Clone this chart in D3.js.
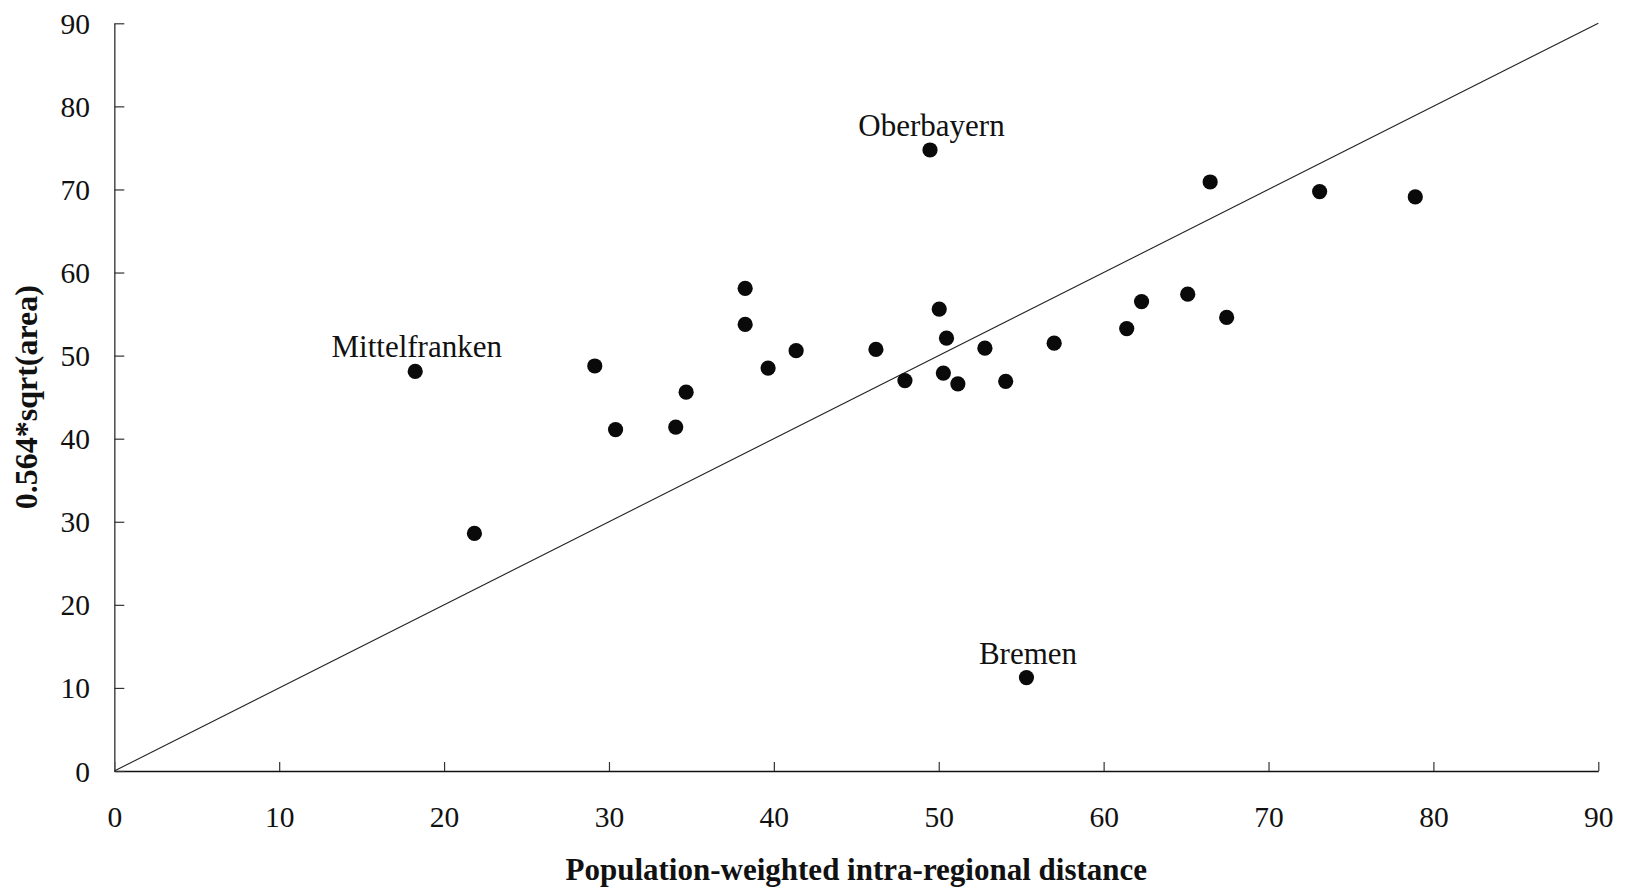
<!DOCTYPE html>
<html>
<head>
<meta charset="utf-8">
<script src="https://cdn.jsdelivr.net/npm/d3@7"></script>
<style>
  html, body { margin: 0; padding: 0; background: #fff; }
  svg { display: block; }
  text { font-family: "Liberation Serif", "Times New Roman", serif; fill: #111; }
</style>
</head>
<body>
<svg id="chart" width="1625" height="890"></svg>
<script>
// distance (x) vs 0.564*sqrt(area) (y), one point per region
var distance = [18.25, 21.84, 29.14, 30.4, 34.05, 34.68, 38.26, 38.26, 39.65, 41.35,
                46.19, 47.95, 49.47, 50.03, 50.28, 50.47, 51.16, 52.8, 54.06, 55.32,
                57.0, 61.4, 62.3, 65.1, 66.46, 67.46, 73.1, 78.9];
var areaRadius = [48.1, 28.6, 48.75, 41.1, 41.4, 45.6, 58.1, 53.75, 48.5, 50.6,
                  50.75, 47.0, 74.75, 55.6, 47.9, 52.1, 46.6, 50.9, 46.9, 11.25,
                  51.5, 53.25, 56.5, 57.4, 70.9, 54.6, 69.75, 69.1];
var names = ["Mittelfranken", "", "", "", "", "", "", "", "", "",
             "", "", "Oberbayern", "", "", "", "", "", "", "Bremen",
             "", "", "", "", "", "", "", ""];
var ticks = [0, 10, 20, 30, 40, 50, 60, 70, 80, 90];

var svg = d3.select("#chart");

var x = d3.scaleLinear().domain([0, 90]).range([114.3, 1598.3]);
var y = d3.scaleLinear().domain([0, 90]).range([771, 23.3]);

var points = distance.map(function(d, i) {
    return { x: d, y: areaRadius[i], name: names[i] };
});

// x axis
var xAxis = svg.append("g")
    .attr("transform", "translate(0," + y(0) + ")")
    .call(d3.axisBottom(x).tickValues(ticks).tickSizeInner(-9).tickSizeOuter(0).tickPadding(0));
xAxis.select(".domain").attr("stroke", "#111").attr("stroke-width", 1.6);
xAxis.selectAll(".tick line").attr("stroke", "#333").attr("stroke-width", 1.2);
xAxis.selectAll(".tick text")
    .attr("y", 56)
    .attr("dy", 0)
    .attr("font-size", "29.5px")
    .attr("font-family", "Liberation Serif, serif")
    .attr("fill", "#111");

// y axis
var yAxis = svg.append("g")
    .attr("transform", "translate(" + x(0) + ",0)")
    .call(d3.axisLeft(y).tickValues(ticks).tickSizeInner(-10).tickSizeOuter(0).tickPadding(0));
yAxis.select(".domain").attr("stroke", "#555").attr("stroke-width", 1.6);
yAxis.selectAll(".tick line").attr("stroke", "#333").attr("stroke-width", 1.2);
yAxis.selectAll(".tick text")
    .attr("x", 90 - x(0))
    .attr("dy", "0.34em")
    .attr("text-anchor", "end")
    .attr("font-size", "29.5px")
    .attr("font-family", "Liberation Serif, serif")
    .attr("fill", "#111");

// 45 degree line
svg.append("line")
    .attr("x1", x(0)).attr("y1", y(0))
    .attr("x2", x(90)).attr("y2", y(90))
    .attr("stroke", "#222")
    .attr("stroke-width", 1.1);

// dots
svg.selectAll(".dot")
    .data(points)
    .enter().append("circle")
    .attr("class", "dot")
    .attr("cx", function(d) { return x(d.x); })
    .attr("cy", function(d) { return y(d.y); })
    .attr("r", 7.6)
    .attr("fill", "#0a0a0a");

// labels
svg.selectAll(".lbl")
    .data(points.filter(function(d) { return d.name; }))
    .enter().append("text")
    .attr("class", "lbl")
    .attr("x", function(d) { return x(d.x) + 1.5; })
    .attr("y", function(d) { return y(d.y) - 14; })
    .attr("text-anchor", "middle")
    .attr("font-size", "31px")
    .text(function(d) { return d.name; });

// axis titles
svg.append("text")
    .attr("x", (x(0) + x(90)) / 2)
    .attr("y", 880)
    .attr("text-anchor", "middle")
    .attr("font-size", "31px")
    .attr("font-weight", "bold")
    .text("Population-weighted intra-regional distance");

svg.append("text")
    .attr("transform", "translate(37," + (y(0) + y(90)) / 2 + ") rotate(-90)")
    .attr("text-anchor", "middle")
    .attr("font-size", "32px")
    .attr("font-weight", "bold")
    .text("0.564*sqrt(area)");
</script>
</body>
</html>
